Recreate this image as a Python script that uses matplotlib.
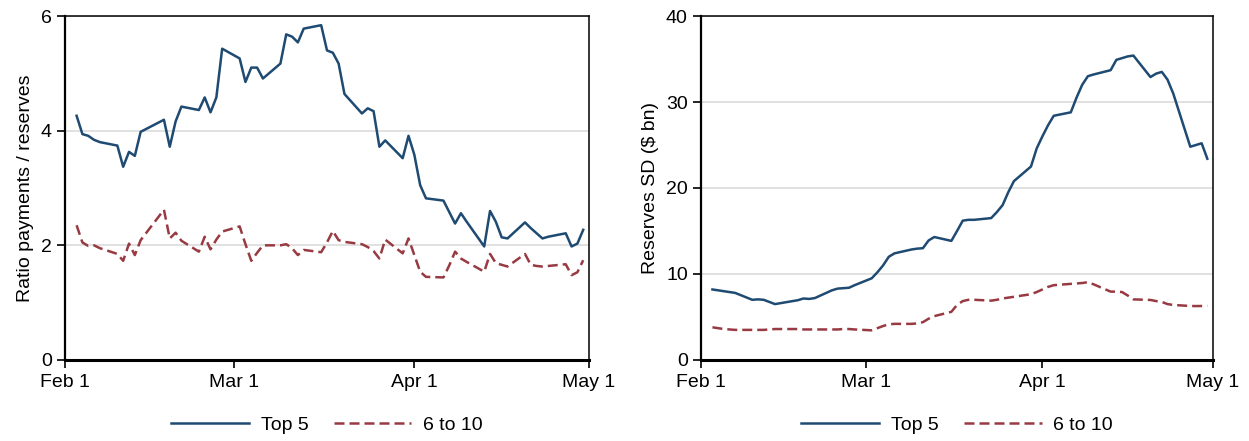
import pandas as pd
import matplotlib.pyplot as plt

# Fedwire business days, Feb-Apr 2020 (closed on Presidents Day, open on Good Friday)
dates = pd.bdate_range("2020-02-03", "2020-04-30", freq="C", holidays=["2020-02-17"])

ratio_top5 = [
    4.26, 3.94, 3.91, 3.84, 3.80, 3.74, 3.37, 3.63, 3.56, 3.98,
    4.19, 3.72, 4.16, 4.42, 4.36, 4.58, 4.32, 4.58, 5.43,
    5.26, 4.85, 5.10, 5.10, 4.91, 5.17, 5.68, 5.64, 5.54, 5.78,
    5.84, 5.40, 5.36, 5.17, 4.64, 4.30, 4.39, 4.34, 3.72, 3.83,
    3.52, 3.91,
    3.58, 3.05, 2.82, 2.78, 2.58, 2.38, 2.56, 2.41, 1.98, 2.60,
    2.41, 2.14, 2.12, 2.40, 2.30, 2.21, 2.12, 2.15, 2.21, 1.98,
    2.03, 2.27,
]
ratio_6to10 = [
    2.35, 2.05, 1.99, 2.00, 1.95, 1.85, 1.73, 2.03, 1.83, 2.09,
    2.62, 2.12, 2.22, 2.08, 1.89, 2.15, 1.93, 2.10, 2.24,
    2.33, 2.02, 1.73, 1.87, 2.00, 2.00, 2.02, 1.95, 1.83, 1.92,
    1.88, 2.05, 2.25, 2.09, 2.06, 2.02, 1.97, 1.90, 1.77, 2.10,
    1.86, 2.12,
    1.83, 1.54, 1.45, 1.44, 1.65, 1.89, 1.77, 1.71, 1.54, 1.85,
    1.69, 1.66, 1.63, 1.85, 1.66, 1.64, 1.63, 1.64, 1.67, 1.48,
    1.53, 1.74,
]
sd_top5 = [
    8.2, 8.1, 8.0, 7.9, 7.8, 7.0, 7.05, 7.0, 6.75, 6.5,
    6.95, 7.15, 7.1, 7.2, 8.1, 8.3, 8.35, 8.4, 8.7,
    9.5, 10.2, 11.0, 12.0, 12.4, 12.85, 12.95, 13.0, 13.9, 14.3,
    13.85, 15.0, 16.2, 16.3, 16.3, 16.5, 17.2, 18.0, 19.5, 20.8,
    22.5, 24.6,
    26.0, 27.3, 28.4, 28.8, 30.5, 32.0, 33.0, 33.2, 33.7, 34.9,
    35.1, 35.3, 35.4, 32.9, 33.3, 33.5, 32.6, 31.0, 24.8, 25.0,
    25.2, 23.4,
]
sd_6to10 = [
    3.8, 3.7, 3.6, 3.55, 3.5, 3.5, 3.5, 3.5, 3.55, 3.6,
    3.6, 3.55, 3.55, 3.55, 3.55, 3.55, 3.6, 3.6, 3.55,
    3.45, 3.7, 3.95, 4.15, 4.2, 4.2, 4.25, 4.4, 4.8, 5.1,
    5.6, 6.4, 6.85, 7.0, 7.0, 6.9, 7.0, 7.15, 7.25, 7.35,
    7.65, 7.9,
    8.2, 8.5, 8.7, 8.85, 8.9, 8.95, 9.05, 8.8, 7.95, 7.95,
    7.9, 7.5, 7.05, 6.98, 6.85, 6.75, 6.5, 6.4, 6.28, 6.27,
    6.28, 6.3,
]

month_ticks = pd.to_datetime(["2020-02-01", "2020-03-01", "2020-04-01", "2020-05-01"])
month_labels = ["Feb 1", "Mar 1", "Apr 1", "May 1"]

blue = "#1f4a72"
red = "#983a42"

plt.rcParams["font.family"] = ["Liberation Sans", "DejaVu Sans"]
plt.rcParams["font.size"] = 14

fig = plt.figure(figsize=(12.49, 4.41), dpi=100)
ax1 = fig.add_axes([0.052, 0.1837, 0.4196, 0.78])
ax2 = fig.add_axes([0.5613, 0.1837, 0.4099, 0.78])


def style_axis(ax, top5, rest, ylim, yticks, ylabel):
    ax.plot(dates, top5, color=blue, lw=1.8, label="Top 5")
    ax.plot(dates, rest, color=red, lw=1.8, dashes=(4, 2.0), label="6 to 10")
    ax.set_xlim(month_ticks[0], month_ticks[-1])
    ax.set_ylim(*ylim)
    ax.set_yticks(yticks)
    ax.set_xticks(month_ticks)
    ax.set_xticklabels(month_labels)
    ax.set_ylabel(ylabel, labelpad=5)
    ax.grid(axis="y", color="#dcdcdc", lw=1.2)
    ax.set_axisbelow(True)
    for side in ["top", "right"]:
        ax.spines[side].set_linewidth(1.1)
    ax.spines["left"].set_linewidth(1.6)
    ax.spines["bottom"].set_linewidth(2.2)
    ax.tick_params(axis="both", direction="out", length=6, width=1.2, colors="black")
    ax.tick_params(axis="x", pad=4)
    ax.legend(loc="center", bbox_to_anchor=(0.5, -0.19), ncol=2, frameon=False,
              handlelength=4.0, columnspacing=1.3, handletextpad=0.6)


style_axis(ax1, ratio_top5, ratio_6to10, (0, 6), [0, 2, 4, 6], "Ratio payments / reserves")
style_axis(ax2, sd_top5, sd_6to10, (0, 40), [0, 10, 20, 30, 40], "Reserves SD ($ bn)")

fig.savefig("out.png", dpi=100)
